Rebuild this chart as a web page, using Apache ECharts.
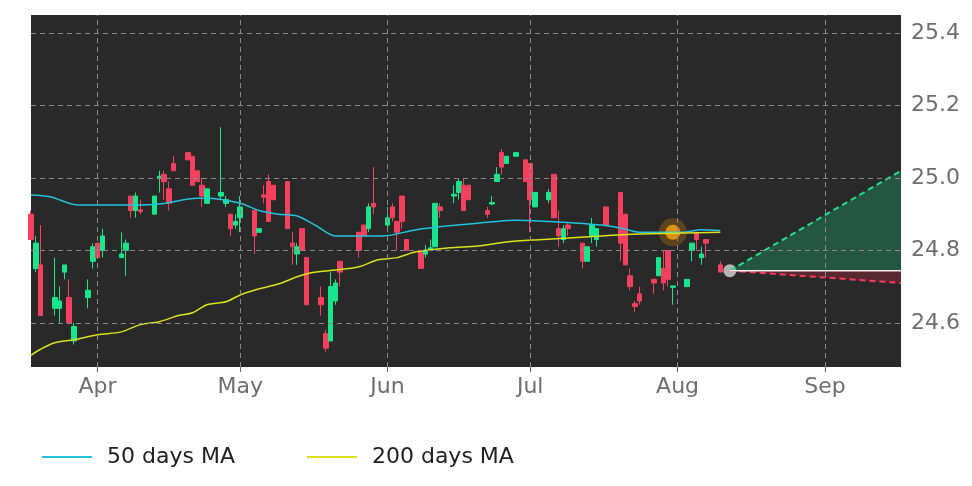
<!DOCTYPE html>
<html><head><meta charset="utf-8">
<script src="https://cdn.jsdelivr.net/npm/echarts@6/dist/echarts.min.js"></script>
<style>html,body{margin:0;padding:0;background:#fff}#c{width:972px;height:486px}</style>
</head><body><div id="c"></div>
<script>
// day index 0 = Mar 18
const monthDays = [14, 44, 75, 105, 136, 167];
const monthLabels = ['Apr', 'May', 'Jun', 'Jul', 'Aug', 'Sep'];
const yTicks = [24.6, 24.8, 25.0, 25.2, 25.4];
const candleDays = [0,1,2,5,6,7,8,9,12,13,14,15,19,20,21,22,23,26,27,28,29,30,33,34,35,36,37,40,41,42,43,44,47,48,49,50,51,
 54,55,56,57,58,61,62,63,64,65,69,70,71,72,75,76,77,78,79,82,83,84,85,86,89,90,91,92,96,97,98,99,100,102,
 104,105,106,109,110,111,112,113,116,117,118,119,121,124,125,126,127,128,131,132,133,134,135,138,139,140,141,142,145];
// [open, close, low, high]
const ohlc = [
[24.90,24.83,24.83,24.91],[24.75,24.82,24.74,24.84],[24.76,24.62,24.62,24.87],[24.64,24.67,24.62,24.78],[24.64,24.66,24.60,24.70],
[24.74,24.76,24.72,24.76],[24.67,24.60,24.60,24.72],[24.55,24.59,24.54,24.60],[24.67,24.69,24.64,24.72],[24.77,24.81,24.75,24.82],
[24.82,24.78,24.78,24.82],[24.80,24.84,24.78,24.86],[24.78,24.79,24.78,24.85],[24.80,24.82,24.73,24.83],[24.95,24.91,24.89,24.95],
[24.91,24.95,24.89,24.96],[24.912,24.907,24.90,24.94],[24.90,24.95,24.90,24.95],[25.00,25.005,24.96,25.02],[25.01,24.99,24.94,25.02],
[24.97,24.93,24.91,24.99],[25.04,25.02,25.02,25.06],[25.07,25.05,25.05,25.07],[25.06,24.98,24.98,25.06],[25.02,24.99,24.99,25.02],
[24.98,24.95,24.92,25.00],[24.93,24.97,24.93,24.97],[24.95,24.96,24.94,25.14],[24.93,24.94,24.92,24.95],[24.90,24.86,24.84,24.90],
[24.87,24.88,24.86,24.90],[24.89,24.92,24.85,24.95],[24.91,24.84,24.79,24.91],[24.85,24.86,24.85,24.86],[24.953,24.947,24.93,24.98],
[24.99,24.88,24.88,25.01],[24.98,24.94,24.94,24.98],
[24.99,24.86,24.86,24.99],[24.82,24.81,24.76,24.85],[24.79,24.81,24.76,24.82],[24.86,24.80,24.80,24.86],[24.78,24.65,24.65,24.78],
[24.67,24.65,24.62,24.70],[24.57,24.53,24.52,24.58],[24.55,24.70,24.55,24.74],[24.66,24.71,24.65,24.72],[24.77,24.74,24.70,24.77],
[24.85,24.80,24.78,24.85],[24.87,24.84,24.84,24.87],[24.86,24.92,24.85,24.93],[24.93,24.92,24.90,25.03],[24.87,24.89,24.85,24.92],
[24.92,24.89,24.88,24.93],[24.88,24.85,24.80,24.88],[24.95,24.88,24.86,24.95],[24.83,24.80,24.80,24.83],[24.80,24.75,24.75,24.80],
[24.79,24.80,24.78,24.815],[24.80,24.807,24.80,24.83],[24.81,24.93,24.81,24.93],[24.92,24.91,24.89,24.93],[24.95,24.955,24.93,24.98],
[24.96,24.99,24.94,25.00],[24.98,24.91,24.91,25.00],[24.98,24.94,24.94,24.98],[24.91,24.90,24.89,24.92],[24.928,24.932,24.925,24.95],
[24.99,25.01,24.99,25.03],[25.07,25.03,25.01,25.08],[25.04,25.06,25.04,25.06],[25.06,25.07,25.06,25.07],
[25.05,24.99,24.99,25.05],[25.04,24.94,24.85,25.04],[24.92,24.96,24.92,24.96],[24.94,24.96,24.93,24.97],[25.01,24.89,24.89,25.01],
[24.86,24.84,24.81,24.91],[24.83,24.86,24.82,24.87],[24.87,24.86,24.84,24.875],[24.82,24.77,24.75,24.82],[24.77,24.81,24.77,24.81],
[24.84,24.87,24.82,24.89],[24.83,24.86,24.81,24.86],[24.92,24.87,24.87,24.92],[24.96,24.82,24.77,24.96],[24.90,24.76,24.76,24.90],
[24.73,24.70,24.69,24.75],[24.653,24.645,24.63,24.66],[24.68,24.66,24.65,24.70],[24.72,24.71,24.68,24.72],[24.73,24.78,24.73,24.78],
[24.75,24.71,24.69,24.80],[24.80,24.72,24.70,24.80],[24.698,24.702,24.65,24.702],[24.70,24.72,24.70,24.72],[24.80,24.82,24.77,24.82],
[24.85,24.83,24.80,24.85],[24.78,24.79,24.76,24.81],[24.83,24.82,24.78,24.83],[24.76,24.74,24.74,24.77]
];
const ma50Days = [0,4,10,21,27,35,37,44,48,52,56,60,64,74,81,88,98,102,109,113,120,124,128,137,141,145];
const ma50 = [24.953,24.948,24.925,24.925,24.928,24.944,24.944,24.93,24.91,24.90,24.895,24.868,24.84,24.84,24.857,24.868,24.88,24.883,24.88,24.877,24.87,24.862,24.85,24.85,24.857,24.855];
const ma200Days = [0,2,5,9,14,19,23,27,31,34,37,41,44,48,52,56,59,65,69,73,77,81,88,94,100,106,113,120,128,137,145];
const ma200 = [24.51,24.527,24.545,24.553,24.567,24.575,24.595,24.603,24.62,24.628,24.65,24.658,24.677,24.694,24.707,24.727,24.738,24.747,24.755,24.774,24.78,24.796,24.807,24.812,24.823,24.829,24.834,24.84,24.845,24.848,24.85];
const lastDay = 147, lastPrice = 24.744, endDay = 183;
const upEnd = 25.02, downEnd = 24.71;
const signalDay = 135, signalPrice = 24.85;

const candles = candleDays.map((d, i) => [d, ...ohlc[i]]);
const pair = (ds, vs) => ds.map((d, i) => [d, vs[i]]);
const chart = echarts.init(document.getElementById('c'));
const gridLine = { color: '#888', type: [5, 4], width: 1 };
const lblColor = '#6e6e6e';
chart.setOption({
  animation: false,
  grid: { left: 31, right: 71, top: 15, bottom: 119, show: true, backgroundColor: '#292929', borderWidth: 0 },
  xAxis: { type: 'value', min: 0, max: endDay,
    axisLine: { show: false }, splitLine: { show: false },
    axisTick: { show: true, customValues: monthDays, length: 5, lineStyle: { color: '#666' } },
    axisLabel: { customValues: monthDays, formatter: v => monthLabels[monthDays.indexOf(Math.round(v))] || '',
      color: lblColor, fontSize: 22, fontFamily: 'DejaVu Sans', margin: 9 } },
  yAxis: { type: 'value', position: 'right', min: 24.478, max: 25.45, scale: true,
    axisLine: { show: false }, splitLine: { show: false },
    axisTick: { show: true, customValues: yTicks, length: 5, lineStyle: { color: '#666' } },
    axisLabel: { customValues: yTicks, formatter: v => v.toFixed(1), color: lblColor, fontSize: 22, fontFamily: 'DejaVu Sans', margin: 10 } },
  legend: { top: 441, left: 37, itemGap: 72, itemWidth: 50, itemHeight: 2, icon: 'rect',
    textStyle: { fontSize: 22, color: '#222', fontFamily: 'DejaVu Sans', padding: [0, 0, 0, 10] }, data: ['50 days MA', '200 days MA'] },
  series: [
    { type: 'line', name: 'grid', data: [], silent: true,
      markLine: { silent: true, symbol: 'none', label: { show: false }, lineStyle: gridLine,
        data: [...yTicks.map(v => ({ yAxis: v })), ...monthDays.map(v => ({ xAxis: v }))] } },
    { type: 'line', name: 'up', data: [[lastDay, lastPrice], [endDay, upEnd]], symbol: 'none',
      lineStyle: { color: '#1fe08f', type: [6, 4], width: 2 },
      areaStyle: { origin: lastPrice, color: 'rgba(30,160,110,0.55)' } },
    { type: 'line', name: 'down', data: [[lastDay, lastPrice], [endDay, downEnd]], symbol: 'none',
      lineStyle: { color: '#ff3a5c', type: [6, 4], width: 2 },
      areaStyle: { origin: lastPrice, color: 'rgba(160,40,60,0.6)' } },
    { type: 'line', name: 'flat', data: [[lastDay, lastPrice], [endDay, lastPrice]], symbol: 'none',
      lineStyle: { color: '#eee', width: 1.5 } },
    { type: 'candlestick', name: 'price', data: candles, barWidth: 5,
      itemStyle: { color: '#19e68c', color0: '#f5405e', borderColor: '#19e68c', borderColor0: '#f5405e', borderWidth: 1 } },
    { type: 'line', name: '50 days MA', data: pair(ma50Days, ma50), symbol: 'none', smooth: 0.3,
      color: '#22c3dc', lineStyle: { width: 1.5 } },
    { type: 'line', name: '200 days MA', data: pair(ma200Days, ma200), symbol: 'none', smooth: 0.3,
      color: '#d8e21e', lineStyle: { width: 1.5 } },
    { type: 'scatter', name: 'halo', data: [[signalDay, signalPrice]], symbolSize: 28,
      itemStyle: { color: 'rgba(230,140,0,0.35)' } },
    { type: 'scatter', name: 'signal', data: [[signalDay, signalPrice]], symbolSize: 15,
      itemStyle: { color: '#ffa500' } },
    { type: 'scatter', name: 'last', data: [[lastDay, lastPrice]], symbolSize: 13,
      itemStyle: { color: '#d8d8d8' } }
  ]
});
</script></body></html>
